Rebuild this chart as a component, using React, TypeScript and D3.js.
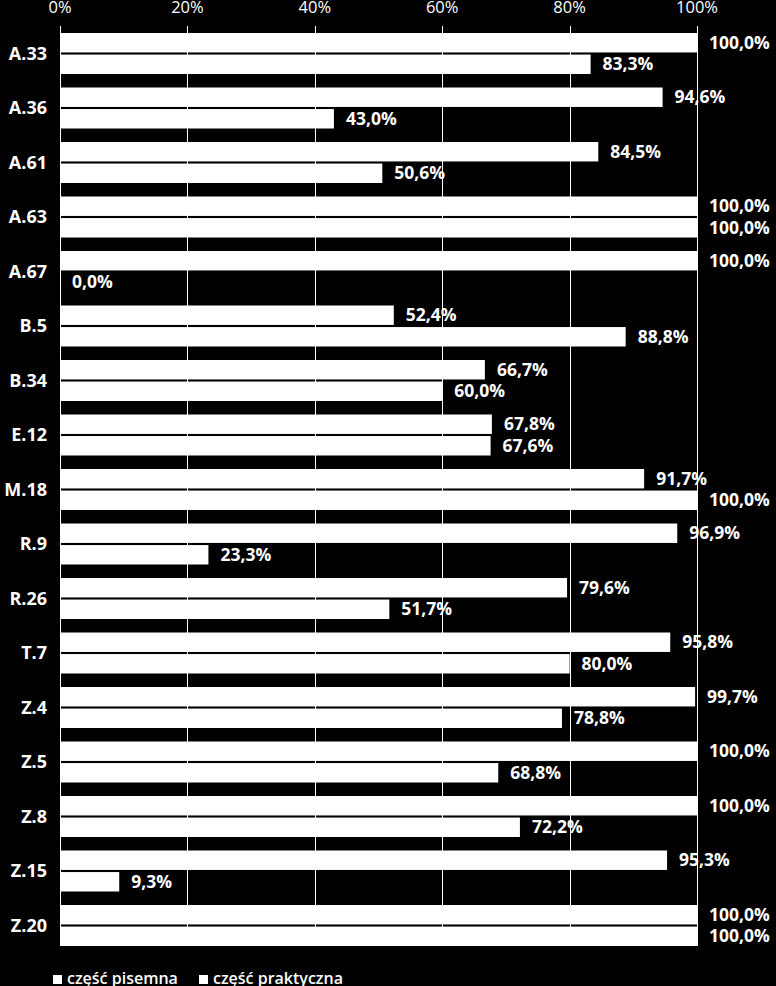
import React, { useEffect, useRef } from "react";
import * as d3 from "d3";

const categories = ["A.33","A.36","A.61","A.63","A.67","B.5","B.34","E.12","M.18","R.9","R.26","T.7","Z.4","Z.5","Z.8","Z.15","Z.20"];
const pisemna = [100.0, 94.6, 84.5, 100.0, 100.0, 52.4, 66.7, 67.8, 91.7, 96.9, 79.6, 95.8, 99.7, 100.0, 100.0, 95.3, 100.0];
const praktyczna = [83.3, 43.0, 50.6, 100.0, 0.0, 88.8, 60.0, 67.6, 100.0, 23.3, 51.7, 80.0, 78.8, 68.8, 72.2, 9.3, 100.0];
const xTicks = [0, 20, 40, 60, 80, 100];
const seriesNames = ["część pisemna", "część praktyczna"];

const W = 776;
const H = 986;
const FONT = "'Open Sans', 'DejaVu Sans', sans-serif";

export default function App() {
  const ref = useRef<SVGSVGElement>(null);

  useEffect(() => {
    const svg = d3.select(ref.current);
    svg.selectAll("*").remove();

    svg.append("rect").attr("width", W).attr("height", H).attr("fill", "#000");

    const x = d3.scaleLinear().domain([0, 100]).range([60, 697]);
    const y = d3.scaleBand<string>().domain(categories).range([26, 26 + 17 * 54.5]).paddingInner(0);
    const sub = d3.scaleBand<string>().domain(["p", "k"]).range([7, 48]).paddingInner(0.0976);

    const plotTop = 26;
    const plotBottom = 946;

    svg.append("g").selectAll("line").data(xTicks).join("line")
      .attr("x1", d => Math.round(x(d)) + 0.5)
      .attr("x2", d => Math.round(x(d)) + 0.5)
      .attr("y1", plotTop)
      .attr("y2", plotBottom)
      .attr("stroke", "#fff")
      .attr("stroke-width", 1);

    svg.append("g").selectAll("text").data(xTicks).join("text")
      .attr("x", d => x(d))
      .attr("y", 13)
      .attr("text-anchor", "middle")
      .attr("fill", "#fff")
      .attr("font-family", FONT)
      .attr("font-size", 16.5)
      .attr("font-weight", 400)
      .text(d => `${d}%`);

    const rows = categories.map((c, i) => ({ c, p: pisemna[i], k: praktyczna[i] }));

    const g = svg.append("g");
    rows.forEach(r => {
      const y0 = y(r.c)!;
      ([["p", r.p], ["k", r.k]] as [string, number][]).forEach(([key, v]) => {
        const by = y0 + sub(key)!;
        const bh = sub.bandwidth();
        if (v > 0) {
          g.append("rect")
            .attr("x", x(0))
            .attr("y", by)
            .attr("width", x(v) - x(0))
            .attr("height", bh)
            .attr("fill", "#fff");
        }
        g.append("text")
          .attr("x", x(v) + 12)
          .attr("y", by + bh / 2)
          .attr("dy", "0.35em")
          .attr("fill", "#fff")
          .attr("font-family", FONT)
          .attr("font-size", 17.5)
          .attr("font-weight", 700)
          .text(d3.format(".1f")(v).replace(".", ",") + "%");
      });
      g.append("text")
        .attr("x", 47)
        .attr("y", y0 + y.bandwidth() / 2)
        .attr("dy", "0.35em")
        .attr("text-anchor", "end")
        .attr("fill", "#fff")
        .attr("font-family", FONT)
        .attr("font-size", 18)
        .attr("font-weight", 700)
        .text(r.c);
    });

    const lg = svg.append("g");
    const legendX = [53, 199];
    seriesNames.forEach((n, i) => {
      lg.append("rect").attr("x", legendX[i]).attr("y", 975).attr("width", 9).attr("height", 9).attr("fill", "#fff");
      lg.append("text")
        .attr("x", legendX[i] + 14)
        .attr("y", 984)
        .attr("fill", "#fff")
        .attr("font-family", FONT)
        .attr("font-size", 16)
        .attr("font-weight", 600)
        .text(n);
    });
  }, []);

  return (
    <svg ref={ref} width={W} height={H} style={{ position: "absolute", left: 0, top: 0, display: "block" }} />
  );
}
